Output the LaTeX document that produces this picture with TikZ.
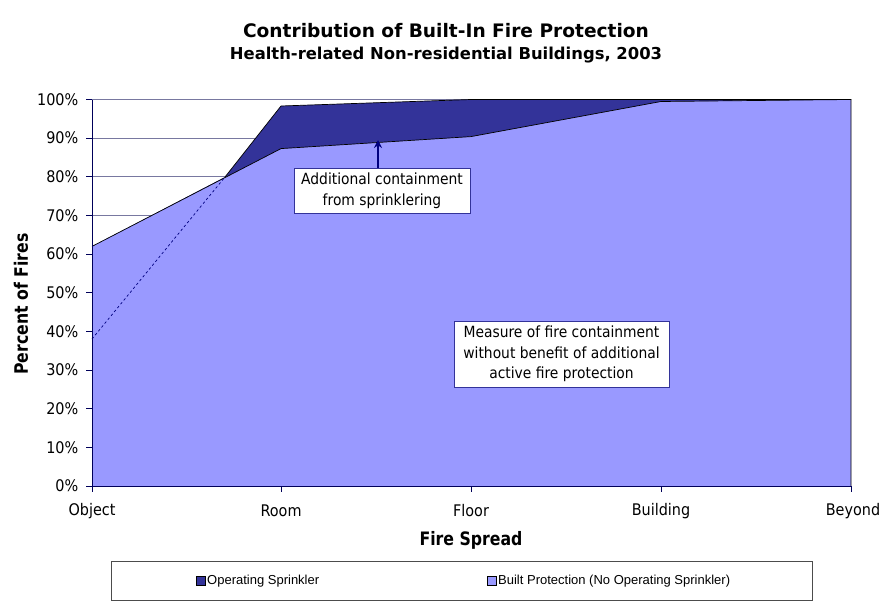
\documentclass[tikz,border=0pt]{standalone}
\usepackage{fontspec}
\setmainfont{DejaVu Sans}
\newfontfamily\tfont[FakeStretch=0.9]{DejaVu Sans}
\newfontfamily\afont[FakeStretch=0.85]{DejaVu Sans}
\newfontfamily\lfont{Liberation Sans}
\usetikzlibrary{arrows.meta}
\definecolor{darkser}{RGB}{51,51,153}
\definecolor{lightser}{RGB}{153,153,255}
\definecolor{navyline}{RGB}{0,0,128}
\definecolor{gridc}{RGB}{120,120,160}
\begin{document}
\begin{tikzpicture}[x=1pt,y=-1pt,
  ticklbl/.style={font=\tfont\fontsize{16}{18}\selectfont, inner sep=0pt},
  axlbl/.style={font=\afont\bfseries\fontsize{18.5}{20}\selectfont, inner sep=0pt},
  titlelbl/.style={font=\bfseries\fontsize{18.6}{24}\selectfont, inner sep=0pt},
  subtitlelbl/.style={font=\bfseries\fontsize{16.4}{20}\selectfont, inner sep=0pt},
  note/.style={draw=darkser, fill=white, line width=0.8pt, align=center, font=\tfont\fontsize{15.4}{20.5}\selectfont, inner sep=0pt},
  gridline/.style={draw=gridc, line width=0.8pt},
  outline/.style={draw=black, line width=0.7pt},
  axisline/.style={draw=navyline!70!black, line width=1pt},
  legtext/.style={font=\lfont\fontsize{13}{15}\selectfont, inner sep=0pt, anchor=west},
  legmark/.style={draw=black, line width=0.7pt, minimum width=9.5pt, minimum height=9pt, inner sep=0pt}]
\useasboundingbox (0,0) rectangle (883,608);
\fill[white] (0,0) rectangle (883,608);
% title
\node[titlelbl] (title) at (446,31) {Contribution of Built-In Fire Protection};
\node[subtitlelbl] (subtitle) at (446,55) {Health-related Non-residential Buildings, 2003};
% gridlines
\foreach \p in {10,20,...,100}
  \draw[gridline] (92,{486-3.865*\p}) -- (851,{486-3.865*\p});
% light area
\fill[lightser] (92,486) -- (92,246.4) -- (281,148.6) -- (471,136.6) -- (661,101.5) -- (851,99.5) -- (851,486) -- cycle;
% dark area
\fill[darkser] (92,246.4) -- (225,177) -- (281,106) -- (471,99.5) -- (851,99.5) -- (661,101.5) -- (471,136.6) -- (281,148.6) -- cycle;
\draw[outline] (92,246.4) -- (281,148.6) -- (471,136.6) -- (661,101.5) -- (851,99.5);
\draw[outline] (225,177) -- (281,106) -- (471,99.5) -- (851,99.5) -- (851,486);
\draw[navyline, line width=0.7pt, dash pattern=on 2.5pt off 2.5pt] (92,339) -- (225,177);
% axes
\draw[axisline] (92,99.5) -- (92,486) -- (851,486);
\foreach \p in {0,10,...,100} {
  \draw[axisline] (86,{486-3.865*\p}) -- (92,{486-3.865*\p});
  \node[ticklbl, anchor=east] at (78.5,{486-3.865*\p}) {\p\%};
}
\foreach \x/\t in {92/Object,281/Room,471/Floor,661/Building,853/Beyond} {
  \node[ticklbl] at (\x,511) {\t};
}
\foreach \x in {92,281,471,661,851}
  \draw[axisline] (\x,486) -- (\x,492);
\node[axlbl, rotate=90] (ylab) at (21,304) {Percent of Fires};
\node[axlbl] (xlab) at (471,540) {Fire Spread};
% notes
\node[note, minimum width=176pt, minimum height=45pt] (n1) at (382,190.5) {Additional containment\\from sprinklering};
\coordinate (a1) at (378,140);
\draw[navyline, line width=2.2pt, -{Stealth[length=8pt,width=8pt]}] (n1.north -| a1) -- (a1);
\node[note, minimum width=215pt, minimum height=66pt] (n2) at (561.5,354) {Measure of fire containment\\without benefit of additional\\active fire protection};
% legend
\node[draw=black!70, line width=0.8pt, minimum width=701pt, minimum height=39pt, inner sep=0pt] (leg) at (461.5,580.5) {};
\node[legmark, fill=darkser] (m1) at (201,581) {};
\node[legtext] (t1) at (207,581) {Operating Sprinkler};
\node[legmark, fill=lightser] (m2) at (492,581) {};
\node[legtext] (t2) at (498,581) {Built Protection (No Operating Sprinkler)};
\end{tikzpicture}
\end{document}
